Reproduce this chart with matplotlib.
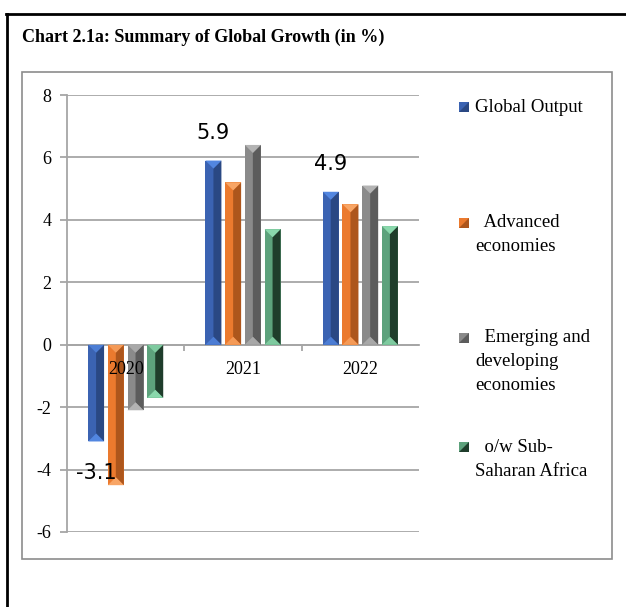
import matplotlib
matplotlib.use("Agg")
import matplotlib.pyplot as plt
from matplotlib.patches import Polygon, Rectangle
from matplotlib.lines import Line2D
import numpy as np

plt.rcParams["axes.unicode_minus"] = False

# ---- data -------------------------------------------------------------
years = ["2020", "2021", "2022"]
series_labels = [
    "Global Output",
    "  Advanced\neconomies",
    "  Emerging and\ndeveloping\neconomies",
    "  o/w Sub-\nSaharan Africa",
]
global_output = [-3.1, 5.9, 4.9]
advanced = [-4.5, 5.2, 4.5]
emerging = [-2.1, 6.4, 5.1]
sub_saharan = [-1.7, 3.7, 3.8]
y_ticks = [-6, -4, -2, 0, 2, 4, 6, 8]

series = [global_output, advanced, emerging, sub_saharan]

# ---- styling ----------------------------------------------------------
face = ["#3B63B2", "#EB7A2E", "#8A8A8A", "#5DA27C"]
dark = ["#2A4883", "#AD561C", "#5C5C5C", "#1F3D2B"]
light = ["#5286E0", "#F8A565", "#B3B3B3", "#8AD8AC"]
grid_c = "#A6A6A6"
serif = "Liberation Serif"

W, H = 626, 607
fig = plt.figure(figsize=(W / 100, H / 100), dpi=100)


def fx(px):
    return px / W


def fy(py):
    return 1 - py / H


# outer frame (top and left rules) and inner chart box
fig.add_artist(Line2D([fx(6), fx(626)], [fy(13.5), fy(13.5)], color="black", lw=2,
                      transform=fig.transFigure))
fig.add_artist(Line2D([fx(7), fx(7)], [fy(13.5), fy(607)], color="black", lw=2,
                      transform=fig.transFigure))
fig.add_artist(Rectangle((fx(22), fy(559)), (612 - 22) / W, (559 - 72) / H,
                         fill=False, edgecolor="#8C8C8C", lw=1.2,
                         transform=fig.transFigure))

fig.text(fx(22), fy(37), "Chart 2.1a: Summary of Global Growth (in %)",
         fontsize=13, fontweight="bold", family=serif, va="center", ha="left")

ax = fig.add_axes([fx(67), fy(532), (419 - 67) / W, (532 - 95) / H])
ax.set_xlim(-0.5, 2.5)
ax.set_ylim(-6, 8)

x = np.arange(len(years))
pitch = 0.168
width = 0.136

containers = []
for i, vals in enumerate(series):
    bc = ax.bar(x + (i - 1.5) * pitch, vals, width, color=face[i], linewidth=0, zorder=3)
    containers.append(bc)

# axes styling
for s in ["top", "right"]:
    ax.spines[s].set_visible(False)
ax.spines["left"].set_color(grid_c)
ax.spines["left"].set_linewidth(1.3)
ax.spines["bottom"].set_position(("data", 0))
ax.spines["bottom"].set_color(grid_c)
ax.spines["bottom"].set_linewidth(1.3)

ax.set_yticks(y_ticks)
ax.set_yticklabels([str(t) for t in y_ticks], family=serif, fontsize=13)
ax.tick_params(axis="y", length=5, width=1.3, color=grid_c, pad=6)
ax.set_xticks([0.5, 1.5])
ax.set_xticklabels(["", ""])
ax.tick_params(axis="x", length=4.5, width=1.3, color=grid_c, direction="out")
ax.yaxis.grid(True, color=grid_c, lw=1.3)
ax.set_axisbelow(True)

# bevelled bar ends and shaded right half
fig.canvas.draw()
bb = ax.get_window_extent()
sx = bb.width / 3.0
sy = bb.height / 14.0
for i, bc in enumerate(containers):
    for r in bc.patches:
        x0, w = r.get_x(), r.get_width()
        base, h = r.get_y(), r.get_height()
        end = base + h
        sg = 1 if h >= 0 else -1
        d = min((w * sx / 2) / sy, abs(h) / 2)
        xc = x0 + w / 2
        ax.add_patch(Polygon([(xc, end - sg * d), (x0 + w, end), (x0 + w, base),
                              (xc, base + sg * d)], closed=True, color=dark[i],
                             lw=0, zorder=3.1))
        ax.add_patch(Polygon([(x0, end), (x0 + w, end), (xc, end - sg * d)],
                             closed=True, color=light[i], lw=0, zorder=3.2))
        ax.add_patch(Polygon([(x0, base), (x0 + w, base), (xc, base + sg * d)],
                             closed=True, color=light[i], alpha=0.75, lw=0, zorder=3.2))

# category labels on the zero line
for i, yr in enumerate(years):
    ax.annotate(yr, (x[i], 0), xytext=(0, -18), textcoords="offset points",
                ha="center", va="center", fontsize=13, family=serif, zorder=6)

# value labels on the Global Output bars
for r, v in zip(containers[0].patches, global_output):
    off = 20 if v >= 0 else -23
    ax.annotate(f"{v:.1f}", (r.get_x() + r.get_width() / 2, v), xytext=(0, off),
                textcoords="offset points", ha="center", va="center",
                fontsize=15, family="DejaVu Sans", zorder=6)

# legend
leg_y = [107, 223, 338, 447]
line_h = 24
for i, lab in enumerate(series_labels):
    y0 = leg_y[i]
    fig.add_artist(Rectangle((fx(459), fy(y0 + 5)), 10 / W, 10 / H, color=face[i],
                             transform=fig.transFigure, lw=0))
    fig.add_artist(Polygon([(fx(469), fy(y0 - 5)), (fx(469), fy(y0 + 5)),
                            (fx(459), fy(y0 + 5))], closed=True, color=dark[i],
                           transform=fig.transFigure, lw=0))
    for j, line in enumerate(lab.split("\n")):
        fig.text(fx(475), fy(y0 + j * line_h), line, fontsize=13.5, family=serif,
                 va="center", ha="left")

fig.savefig("out.png", dpi=100)
